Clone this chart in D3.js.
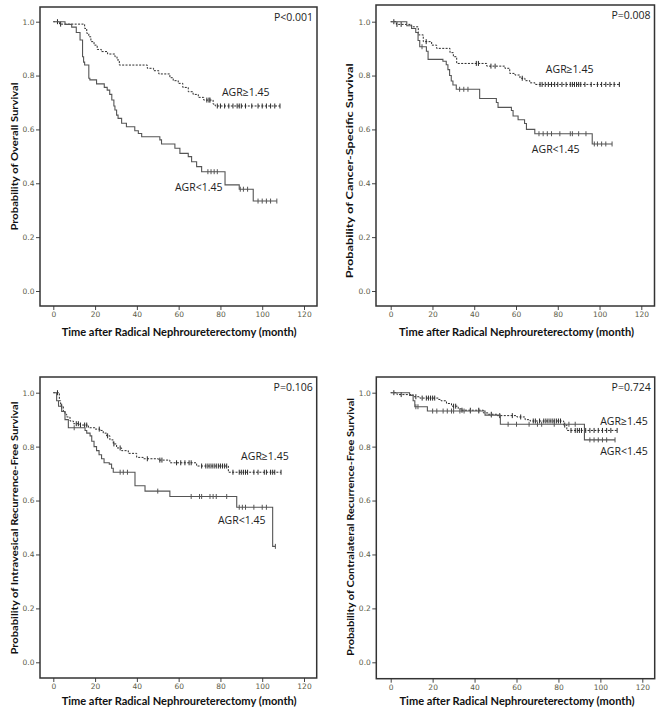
<!DOCTYPE html>
<html><head><meta charset="utf-8">
<script src="https://cdn.jsdelivr.net/npm/d3@7"></script>
<style>body{margin:0;background:#fff}svg{display:block}</style>
</head><body>
<svg id="c" width="666" height="716"></svg>
<script>
// ---------- DATA ----------
const xTicks = [0, 20, 40, 60, 80, 100, 120];
const yTicks = [0, 0.2, 0.4, 0.6, 0.8, 1.0];
const xTitle = "Time after Radical Nephroureterectomy (month)";
const yTitles = ["Probability of Overall Survival", "Probability of Cancer-Specific Survival",
  "Probability of Intravesical Recurrence-Free Survival", "Probability of Contralateral Recurrence-Free Survival"];
const pValues = ["P<0.001", "P=0.008", "P=0.106", "P=0.724"];
const groupNames = ["AGR\u22651.45", "AGR<1.45"];

// Overall survival
const osHighT = [0, 3, 15, 16, 17, 18, 19.5, 21, 23, 26, 29.5, 30.5, 31.6, 45, 48, 50.5, 55.8, 57.4, 59.8, 62, 64.6, 66.9, 69.4, 72, 76.5, 77.5];
const osHighS = [1, 0.991, 0.975, 0.957, 0.944, 0.926, 0.913, 0.897, 0.889, 0.88, 0.87, 0.858, 0.839, 0.827, 0.818, 0.806, 0.792, 0.781, 0.771, 0.756, 0.74, 0.73, 0.719, 0.709, 0.694, 0.687];
const osHighC = [2, 3.5, 73.5, 74.5, 75, 78.5, 80, 82, 84, 86, 88, 89, 90, 92, 95, 98, 100, 102, 104, 106, 108.5];
const osLowT = [0, 5.6, 8.8, 11, 12.8, 14, 14.5, 15, 17, 17.5, 20.7, 24.4, 25.8, 27, 28, 29, 29.5, 30.3, 31, 32.7, 35, 39, 40.7, 42.3, 51, 51.8, 58.2, 60.6, 64.6, 66.2, 68.6, 71, 82.2, 89, 95.7];
const osLowS = [1, 0.99, 0.98, 0.96, 0.932, 0.87, 0.85, 0.839, 0.79, 0.784, 0.769, 0.756, 0.746, 0.73, 0.709, 0.687, 0.672, 0.653, 0.641, 0.623, 0.61, 0.595, 0.585, 0.573, 0.561, 0.546, 0.53, 0.511, 0.499, 0.48, 0.462, 0.443, 0.394, 0.378, 0.334];
const osLowC = [74, 75.5, 77, 78.5, 89.5, 91, 93, 98, 100, 102, 104, 107];

// Cancer-specific survival
const cssHighT = [0, 2.7, 10, 13.2, 15.6, 19.6, 22, 28.4, 30, 31.6, 46, 54.7, 57, 59.5, 61.9, 64.3, 66.6, 69.1];
const cssHighS = [1, 0.99, 0.981, 0.951, 0.926, 0.913, 0.901, 0.885, 0.87, 0.845, 0.835, 0.827, 0.808, 0.802, 0.79, 0.781, 0.773, 0.767];
const cssHighC = [1.5, 3, 5, 17, 41, 42, 48, 50, 63, 71.5, 72.5, 74, 75.5, 77, 78.5, 80, 82, 84, 86, 87, 88, 89, 90, 91, 93, 96, 99, 101, 103, 105, 107, 109.5];
const cssLowT = [0, 7.7, 10, 12, 13.1, 13.9, 17.1, 17.9, 25, 26.6, 27.4, 28.2, 29, 29.8, 31.4, 42.6, 50.6, 51.4, 57.8, 58.6, 61, 64.1, 65, 69, 96.5];
const cssLowS = [1, 0.985, 0.975, 0.96, 0.93, 0.907, 0.89, 0.86, 0.853, 0.84, 0.822, 0.8, 0.78, 0.765, 0.749, 0.715, 0.7, 0.682, 0.67, 0.65, 0.636, 0.622, 0.6, 0.584, 0.546];
const cssLowC = [15, 33, 35, 37, 71, 73, 75, 77, 81, 86, 87, 90, 93.5, 97.5, 99, 101, 103, 106];

// Intravesical recurrence-free survival
const irHighT = [0, 2.9, 3.5, 4.8, 5.6, 6.4, 8, 9.6, 12.8, 16.8, 19.9, 22.3, 23.9, 25.5, 27.1, 28.7, 30.3, 32.7, 35.9, 39.9, 43.1, 50.3, 55.8, 68.6, 83.8];
const irHighS = [1, 0.97, 0.95, 0.93, 0.92, 0.91, 0.895, 0.885, 0.88, 0.87, 0.865, 0.86, 0.85, 0.84, 0.825, 0.81, 0.795, 0.785, 0.775, 0.76, 0.755, 0.75, 0.74, 0.728, 0.705];
const irHighC = [2, 4, 11, 12, 13, 15, 16, 22, 26, 29, 32, 45, 51, 52, 59, 61, 63, 65, 66, 71, 73, 74, 75, 76, 77, 78, 79, 80, 81, 82, 83, 86, 89, 90, 91, 92, 93, 96, 98, 101, 102, 104, 105, 106, 109];
const irLowT = [0, 1.6, 2.5, 4, 5.6, 7.2, 15.2, 16, 17.6, 18.4, 19.5, 20.7, 21.9, 23.1, 24.3, 26.8, 27.9, 28.7, 39.1, 43.9, 55.8, 87.8, 105];
const irLowS = [1, 0.97, 0.95, 0.93, 0.9, 0.87, 0.86, 0.85, 0.84, 0.82, 0.8, 0.785, 0.77, 0.755, 0.74, 0.735, 0.72, 0.705, 0.655, 0.635, 0.615, 0.575, 0.43];
const irLowC = [10, 32, 33.5, 35.5, 50, 66, 70, 71, 75, 76.5, 78, 83, 89, 90.5, 92, 96, 100, 102, 106.3];

// Contralateral recurrence-free survival
const crHighT = [0, 3, 10.7, 13.9, 22.7, 24, 26.6, 29, 32.2, 33.8, 44.2, 46.6, 50.6, 60.2, 64.1, 66.5, 82.5, 84];
const crHighS = [1, 0.993, 0.985, 0.98, 0.975, 0.97, 0.96, 0.95, 0.94, 0.935, 0.925, 0.92, 0.915, 0.91, 0.9, 0.895, 0.88, 0.86];
const crHighC = [1.5, 5, 12, 15, 17, 18, 19, 20, 21, 30, 31, 34, 38, 42, 48, 52, 58, 62, 68, 69, 71, 73, 74, 75, 76, 77, 78, 79, 80, 81, 83, 86, 88, 89, 90, 91, 93, 95, 97, 99, 101, 103, 105, 108];
const crLowT = [0, 9, 10.7, 11.5, 17.5, 45, 52.3, 92.4];
const crLowS = [1, 0.99, 0.97, 0.948, 0.932, 0.917, 0.883, 0.825];
const crLowC = [12, 13, 20, 22, 25, 27, 29, 30, 33, 35, 38, 42, 48, 56, 60, 66, 70, 72, 78, 85, 88, 95, 97, 99, 101, 103, 107];

// ---------- LAYOUT ----------
const panels = [
  {frame: [40, 7, 317, 306], xr: [53.3, 304], yr: [291, 21.7], yTitleX: 13.5, yTitleY: 156.5, yTitleLen: 148, xTitleY: 336,
   hi: {t: osHighT, s: osHighS, c: osHighC}, lo: {t: osLowT, s: osLowS, c: osLowC},
   hiLab: [80.7, 0.724], loLab: [58.2, 0.372]},
  {frame: [376, 5, 654.5, 306], xr: [390.7, 641.3], yr: [291, 21.7], yTitleX: 349, yTitleY: 170.8, yTitleLen: 215, xTitleY: 336,
   hi: {t: cssHighT, s: cssHighS, c: cssHighC}, lo: {t: cssLowT, s: cssLowS, c: cssLowC},
   hiLab: [74.3, 0.809], loLab: [67.6, 0.512]},
  {frame: [40, 377, 316.7, 678], xr: [53.3, 304], yr: [662.3, 392.7], yTitleX: 13.5, yTitleY: 528, yTitleLen: 253, xTitleY: 705,
   hi: {t: irHighT, s: irHighS, c: irHighC}, lo: {t: irLowT, s: irLowS, c: irLowC},
   hiLab: [89.9, 0.75], loLab: [78.8, 0.513]},
  {frame: [376.3, 377, 654.7, 678.7], xr: [390.7, 642.3], yr: [662.3, 392.7], yTitleX: 349.5, yTitleY: 527, yTitleLen: 258, xTitleY: 705,
   hi: {t: crHighT, s: crHighS, c: crHighC}, lo: {t: crLowT, s: crLowS, c: crLowC},
   hiLab: [99.9, 0.88], loLab: [99.9, 0.769]}
];

const svg = d3.select("#c");

function stepPoints(g, tEnd) {
  const pts = [];
  for (let i = 0; i < g.t.length; i++) {
    if (i > 0) pts.push([g.t[i], g.s[i - 1]]);
    pts.push([g.t[i], g.s[i]]);
  }
  pts.push([tEnd, g.s[g.s.length - 1]]);
  return pts;
}
function survAt(g, t) {
  const i = d3.bisectRight(g.t, t) - 1;
  return g.s[Math.max(0, i)];
}

panels.forEach((p, k) => {
  const [fl, ft, fr, fb] = p.frame;
  const x = d3.scaleLinear().domain([0, 120]).range(p.xr);
  const y = d3.scaleLinear().domain([0, 1]).range(p.yr);
  const g = svg.append("g");

  // axes
  const ya = g.append("g").attr("transform", `translate(${fl},0)`)
    .call(d3.axisLeft(y).tickValues(yTicks).tickFormat(d3.format(".1f")).tickSize(4).tickPadding(1.5));
  const xa = g.append("g").attr("transform", `translate(0,${fb})`)
    .call(d3.axisBottom(x).tickValues(xTicks).tickSize(4).tickPadding(2));
  [ya, xa].forEach(a => {
    a.select(".domain").remove();
    a.selectAll(".tick line").attr("stroke", "#444").attr("stroke-width", 1);
    a.selectAll(".tick text").attr("fill", "#5c5c48").style("font", "7.5px 'DejaVu Sans', sans-serif");
  });

  // frame
  g.append("rect").attr("x", fl).attr("y", ft).attr("width", fr - fl).attr("height", fb - ft)
    .attr("fill", "none").attr("stroke", "#333").attr("stroke-width", 1.5);

  const line = d3.line().x(d => x(d[0])).y(d => y(d[1]));
  const groups = [
    {d: p.hi, dash: "2,1.4", color: "#2a2a2a", w: 1},
    {d: p.lo, dash: null, color: "#555", w: 1.1}
  ];
  groups.forEach(gr => {
    const tEnd = d3.max(gr.d.c.concat(gr.d.t));
    g.append("path").attr("d", line(stepPoints(gr.d, tEnd)))
      .attr("fill", "none").attr("stroke", gr.color).attr("stroke-width", gr.w)
      .attr("stroke-dasharray", gr.dash);
    g.selectAll(null).data(gr.d.c).enter().append("line")
      .attr("x1", d => x(d)).attr("x2", d => x(d))
      .attr("y1", d => y(survAt(gr.d, d)) - 2.5).attr("y2", d => y(survAt(gr.d, d)) + 2.5)
      .attr("stroke", gr.color).attr("stroke-width", 1);
  });

  // labels
  const lab = "'Open Sans', 'DejaVu Sans', sans-serif";
  g.append("text").attr("x", x(p.hiLab[0])).attr("y", y(p.hiLab[1])).text(groupNames[0])
    .style("font", `10.5px ${lab}`).attr("fill", "#222");
  g.append("text").attr("x", x(p.loLab[0])).attr("y", y(p.loLab[1])).text(groupNames[1])
    .style("font", `10.5px ${lab}`).attr("fill", "#222");
  g.append("text").attr("x", fr - 4).attr("y", ft + 14).attr("text-anchor", "end").text(pValues[k])
    .style("font", `10.5px ${lab}`).attr("fill", "#222");

  // axis titles
  g.append("text").attr("x", (p.xr[0] + p.xr[1]) / 2 + 0.5).attr("y", p.xTitleY).attr("text-anchor", "middle")
    .attr("textLength", 235).attr("lengthAdjust", "spacingAndGlyphs")
    .text(xTitle).style("font", "bold 11px Lato, 'DejaVu Sans', sans-serif").attr("fill", "#111");
  g.append("text").attr("transform", `translate(${p.yTitleX},${p.yTitleY}) rotate(-90)`)
    .attr("text-anchor", "middle").attr("dominant-baseline", "central")
    .attr("textLength", p.yTitleLen).attr("lengthAdjust", "spacingAndGlyphs")
    .text(yTitles[k]).style("font", "bold 10px Lato, 'DejaVu Sans', sans-serif").attr("fill", "#111");
});
</script>
</body></html>
